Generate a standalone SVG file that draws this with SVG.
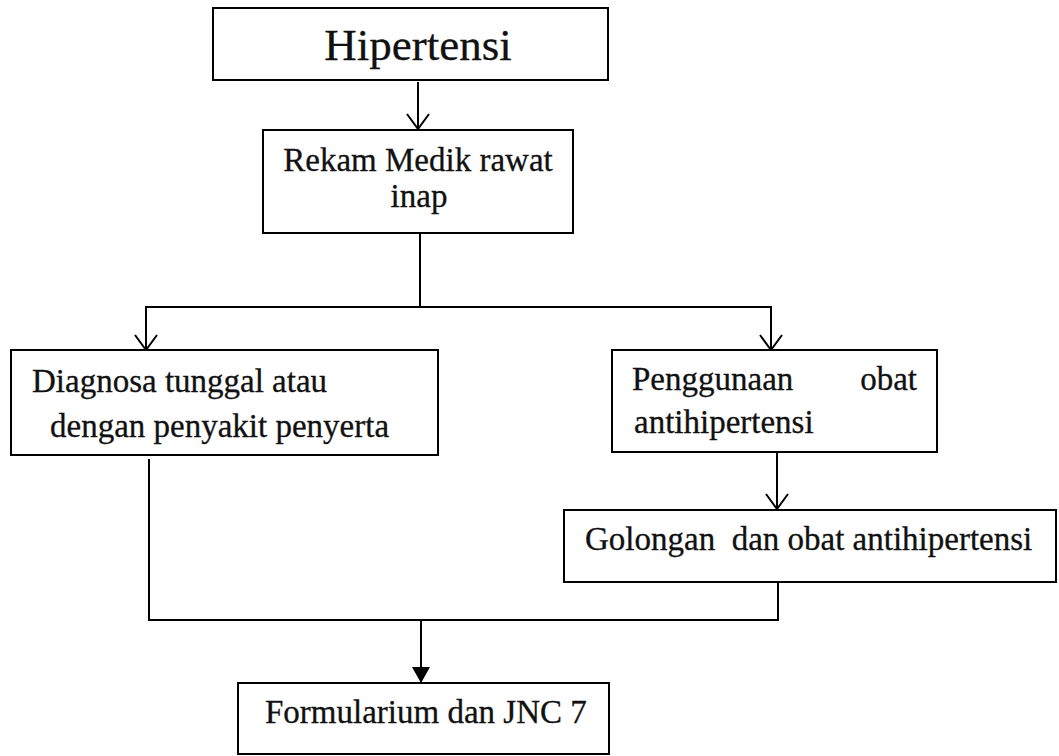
<svg xmlns="http://www.w3.org/2000/svg" width="1059" height="756" viewBox="0 0 1059 756">
<style>
.box{fill:#fff;stroke:#000;stroke-width:2}
.t{font-family:'Liberation Serif','Times New Roman',serif;font-size:33px;fill:#111;stroke:#111;stroke-width:0.3}
.big{font-size:45px}
.c{fill:none;stroke:#000;stroke-width:2}
</style>
<defs>
<marker id="open" markerUnits="userSpaceOnUse" viewBox="0 0 17 24" markerWidth="17" markerHeight="24" refX="16" refY="12" orient="auto">
<path d="M1,1 L16,12 L1,23" fill="none" stroke="#000" stroke-width="2"/>
</marker>
<marker id="fill" markerUnits="userSpaceOnUse" viewBox="0 0 16 20" markerWidth="16" markerHeight="20" refX="16" refY="10" orient="auto">
<path d="M0,1 L16,10 L0,19 Z" fill="#000"/>
</marker>
</defs>
<rect width="1059" height="756" fill="#fff"/>
<g id="connectors">
<path class="c" d="M418,82 V129" marker-end="url(#open)"/>
<path class="c" d="M420,233 V307 H146 V350" marker-end="url(#open)"/>
<path class="c" d="M420,307 H771 V350" marker-end="url(#open)"/>
<path class="c" d="M777,452 V509" marker-end="url(#open)"/>
<path class="c" d="M149,459 V620 H778 V582"/>
<path class="c" d="M421,620 V683" marker-end="url(#fill)"/>
</g>
<g id="n1">
<rect class="box" x="213" y="8" width="395" height="72"/>
<text class="t big" x="418" y="60" text-anchor="middle">Hipertensi</text>
</g>
<g id="n2">
<rect class="box" x="263" y="130" width="310" height="103"/>
<text class="t" x="418" y="171" text-anchor="middle">Rekam Medik rawat</text>
<text class="t" x="419" y="207" text-anchor="middle">inap</text>
</g>
<g id="n3">
<rect class="box" x="11" y="350" width="427" height="105"/>
<text class="t" x="32" y="392">Diagnosa tunggal atau</text>
<text class="t" x="50" y="437">dengan penyakit penyerta</text>
</g>
<g id="n4">
<rect class="box" x="612" y="350" width="325" height="102"/>
<text class="t" x="632" y="390">Penggunaan</text>
<text class="t" x="917" y="390" text-anchor="end">obat</text>
<text class="t" x="634" y="433">antihipertensi</text>
</g>
<g id="n5">
<rect class="box" x="564" y="510" width="492" height="72"/>
<text class="t" x="585" y="550" style="white-space:pre">Golongan  dan obat antihipertensi</text>
</g>
<g id="n6">
<rect class="box" x="238" y="683" width="371" height="71"/>
<text class="t" x="265" y="723">Formularium dan JNC 7</text>
</g>
</svg>
